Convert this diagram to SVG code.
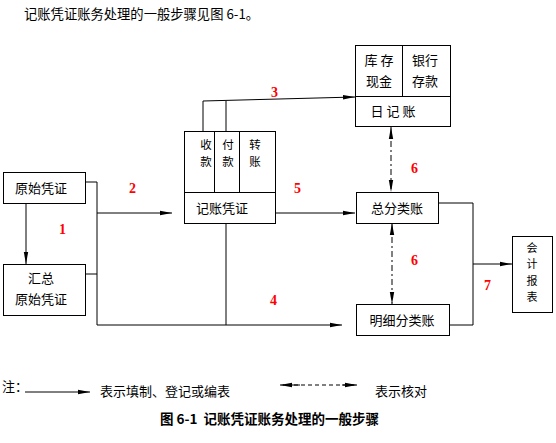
<svg xmlns="http://www.w3.org/2000/svg" width="556" height="443" viewBox="0 0 556 443">
<defs>
<marker id="ah" viewBox="0 0 12 6" refX="12" refY="3" markerWidth="12" markerHeight="6" markerUnits="userSpaceOnUse" orient="auto-start-reverse">
<path d="M0,0.8 L12,3 L0,5.2 z" fill="#000"/>
</marker>
</defs>
<style>
text{font-family:"Noto Sans CJK SC","Noto Sans",sans-serif;font-size:13px;fill:#000}
.box{fill:#fff;stroke:#000;stroke-width:1}
.ln{fill:none;stroke:#000;stroke-width:1}
.dash{fill:none;stroke:#000;stroke-width:1;stroke-dasharray:6,3,2,3}
.num{font-family:"Liberation Serif",serif;font-weight:bold;font-size:14px;fill:#ff0000}
.c{text-anchor:middle}
.v{font-size:11.5px}
.cap{font-weight:bold;font-size:13.5px;white-space:pre}
</style>
<rect width="556" height="443" fill="#fff"/>
<text x="24" y="19" style="font-size:13.3px">记账凭证账务处理的一般步骤见图 6-1。</text>

<g id="connectors">
<path class="ln" d="M26,203 V264" marker-end="url(#ah)"/>
<path class="ln" d="M85,182 H97 V325 H342" marker-end="url(#ah)"/>
<path class="ln" d="M85,274 H97"/>
<path class="ln" d="M97,213 H172" marker-end="url(#ah)"/>
<path class="ln" d="M226,223 V325"/>
<path class="ln" d="M203,131 V101 L355,97" marker-end="url(#ah)"/>
<path class="ln" d="M226,131 V101"/>
<path class="ln" d="M275,213 H355" marker-end="url(#ah)"/>
<path class="ln" d="M438,203 H473 V325 H449"/>
<path class="ln" d="M473,264 H512" marker-end="url(#ah)"/>
<path class="dash" d="M391,127 V192" marker-start="url(#ah)" marker-end="url(#ah)"/>
<path class="dash" d="M392,223 V304" marker-start="url(#ah)" marker-end="url(#ah)"/>
</g>

<g id="labels">
<text class="num" x="59" y="234">1</text>
<text class="num" x="129" y="193">2</text>
<text class="num" x="271" y="97">3</text>
<text class="num" x="270" y="305">4</text>
<text class="num" x="294" y="193">5</text>
<text class="num" x="411" y="173">6</text>
<text class="num" x="411" y="265">6</text>
<text class="num" x="484" y="290">7</text>
</g>

<g id="yuanshi">
<rect class="box" x="3.5" y="172.5" width="82" height="31"/>
<text class="c" x="41" y="193">原始凭证</text>
</g>

<g id="huizong">
<rect class="box" x="3.5" y="264.5" width="82" height="51"/>
<text class="c" x="41" y="283">汇总</text>
<text class="c" x="41" y="304">原始凭证</text>
</g>

<g id="pingzheng">
<rect class="box" x="184.5" y="131.5" width="91" height="92"/>
<path class="ln" d="M184.5,192.5 H275.5 M214.5,131.5 V192.5 M239.5,131.5 V192.5"/>
<text class="c v"><tspan x="206" y="149">收</tspan><tspan x="206" dy="17">款</tspan></text>
<text class="c v"><tspan x="228" y="149">付</tspan><tspan x="228" dy="17">款</tspan></text>
<text class="c v"><tspan x="255" y="149">转</tspan><tspan x="255" dy="17">账</tspan></text>
<text class="c" x="222" y="213">记账凭证</text>
</g>

<g id="rijizhang">
<rect class="box" x="355.5" y="45.5" width="95" height="81"/>
<path class="ln" d="M355.5,96.5 H450.5 M402.5,45.5 V96.5"/>
<text class="c" x="379" y="65">库 存</text>
<text class="c" x="379" y="86">现金</text>
<text class="c" x="425" y="65">银行</text>
<text class="c" x="425" y="86">存款</text>
<text class="c" x="393" y="116">日 记 账</text>
</g>

<g id="zongfenlei">
<rect class="box" x="356.5" y="192.5" width="82" height="31"/>
<text class="c" x="397" y="213">总分类账</text>
</g>

<g id="mingxi">
<rect class="box" x="356.5" y="304.5" width="93" height="31"/>
<text class="c" x="402" y="325">明细分类账</text>
</g>

<g id="baobiao">
<rect class="box" x="512.5" y="236.5" width="40" height="76"/>
<text class="c" style="font-size:11px"><tspan x="532" y="252">会</tspan><tspan x="532" dy="16.3">计</tspan><tspan x="532" dy="16.3">报</tspan><tspan x="532" dy="16.3">表</tspan></text>
</g>

<g id="legend">
<text x="2" y="391">注：</text>
<path class="ln" d="M25,392 H90" marker-end="url(#ah)"/>
<text x="100" y="396">表示填制、登记或编表</text>
<path class="ln" d="M283,385 H300 M342,385 H357" />
<path class="dash" d="M280,385 H357" marker-start="url(#ah)" marker-end="url(#ah)" style="stroke-dasharray:4,3"/>
<text x="375" y="396">表示核对</text>
<text class="cap" x="160" y="424" xml:space="preserve">图 6-1  记账凭证账务处理的一般步骤</text>
</g>
</svg>
